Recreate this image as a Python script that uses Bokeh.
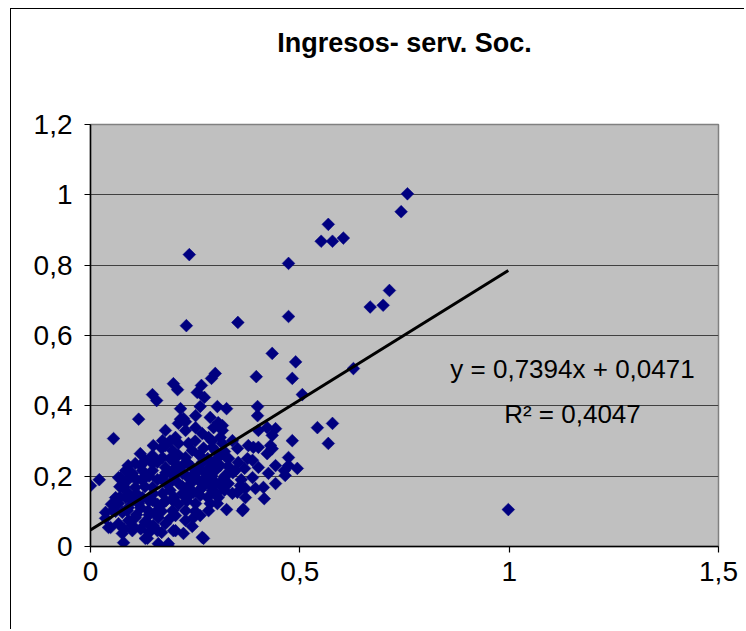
from bokeh.plotting import figure
from bokeh.models import Range1d, FixedTicker, Label, ColumnDataSource, Title
from bokeh.embed import file_html
from bokeh.resources import INLINE
import numpy as np

title_text = "Ingresos- serv. Soc."
eq_text = "y = 0,7394x + 0,0471"
r2_text = "R² = 0,4047"
slope = 0.7394
intercept = 0.0471

x_ticks = [0, 0.5, 1, 1.5]
x_tick_labels = ["0", "0,5", "1", "1,5"]
y_ticks = [0, 0.2, 0.4, 0.6, 0.8, 1.0, 1.2]
y_tick_labels = ["0", "0,2", "0,4", "0,6", "0,8", "1", "1,2"]

pts = [
    (0.757, 1.003), (0.742, 0.952), (0.568, 0.916), (0.551, 0.868), (0.578, 0.868), (0.604, 0.877),
    (0.236, 0.830), (0.473, 0.805), (0.714, 0.728), (0.699, 0.686), (0.668, 0.681), (0.473, 0.654),
    (0.229, 0.628), (0.352, 0.637), (0.434, 0.549), (0.490, 0.525), (0.628, 0.506), (0.482, 0.478),
    (0.506, 0.432), (0.998, 0.105),
    (0.542, 0.338), (0.578, 0.350), (0.568, 0.293),
    (0.396, 0.483), (0.298, 0.492), (0.289, 0.478), (0.265, 0.458), (0.272, 0.424), (0.262, 0.398),
    (0.325, 0.392), (0.399, 0.398), (0.399, 0.372), (0.198, 0.463), (0.208, 0.446), (0.148, 0.432),
    (0.158, 0.415), (0.255, 0.438), (0.215, 0.392), (0.115, 0.362), (0.215, 0.362), (0.227, 0.355),
    (0.422, 0.338), (0.442, 0.335), (0.434, 0.316), (0.482, 0.301), (0.434, 0.278), (0.473, 0.253),
    (0.494, 0.222), (0.442, 0.230), (0.425, 0.208), (0.465, 0.202), (0.463, 0.216), (0.442, 0.179),
    (0.415, 0.136), (0.394, 0.165), (0.387, 0.245), (0.401, 0.282), (0.365, 0.106), (0.325, 0.105),
    (0.267, 0.026), (0.315, 0.344), (0.351, 0.154), (0.370, 0.139), (0.329, 0.179), (0.322, 0.202),
    (0.055, 0.307), (0.0, 0.173), (0.021, 0.19),
    (0.036, 0.097), (0.043, 0.054), (0.067, 0.065), (0.079, 0.011), (0.131, 0.023), (0.160, 0.045),
    (0.162, 0.008), (0.198, 0.045), (0.222, 0.037), (0.243, 0.057), (0.184, 0.003), (0.036, 0.08),
    (0.053, 0.102), (0.048, 0.054), (0.136, 0.023), (0.186, 0.008), (0.203, 0.045), (0.270, 0.023),
    (0.363, 0.102), (0.286, 0.122), (0.262, 0.145), (0.315, 0.168), (0.339, 0.151), (0.370, 0.165),
    (0.320, 0.196), (0.346, 0.216), (0.358, 0.173), (0.387, 0.196), (0.401, 0.225), (0.375, 0.250),
    (0.377, 0.287), (0.322, 0.256), (0.339, 0.301), (0.291, 0.282), (0.315, 0.330), (0.267, 0.321),
    (0.251, 0.338), (0.294, 0.338), (0.227, 0.330), (0.203, 0.310), (0.179, 0.330), (0.172, 0.301),
    (0.150, 0.287), (0.119, 0.264), (0.131, 0.245), (0.148, 0.259), (0.107, 0.236), (0.084, 0.216),
    (0.067, 0.196), (0.072, 0.196), (0.076, 0.168), (0.091, 0.151), (0.060, 0.139), (0.067, 0.122),
    (0.088, 0.102), (0.107, 0.082), (0.091, 0.074), (0.115, 0.122), (0.138, 0.102), (0.162, 0.082),
    (0.179, 0.065), (0.203, 0.088), (0.227, 0.102), (0.251, 0.122), (0.282, 0.179), (0.258, 0.188),
    (0.234, 0.168), (0.220, 0.151), (0.196, 0.131), (0.172, 0.151), (0.148, 0.168), (0.124, 0.188),
    (0.100, 0.208), (0.124, 0.216), (0.148, 0.216), (0.172, 0.196), (0.196, 0.188), (0.220, 0.208),
    (0.243, 0.225), (0.267, 0.239), (0.291, 0.236), (0.227, 0.253), (0.203, 0.236), (0.179, 0.225),
    (0.196, 0.273), (0.243, 0.273), (0.210, 0.293), (0.234, 0.293), (0.172, 0.253), (0.148, 0.236),
    (0.124, 0.139), (0.148, 0.131), (0.172, 0.122), (0.196, 0.102), (0.107, 0.168), (0.084, 0.139),
    (0.076, 0.097), (0.100, 0.045), (0.076, 0.037), (0.138, 0.065), (0.155, 0.097), (0.305, 0.139),
    (0.291, 0.159), (0.267, 0.168), (0.246, 0.154), (0.227, 0.139), (0.246, 0.082), (0.227, 0.074),
    (0.262, 0.088), (0.282, 0.102), (0.303, 0.122), (0.315, 0.188), (0.298, 0.216), (0.274, 0.208),
    (0.251, 0.196), (0.210, 0.225), (0.305, 0.253), (0.315, 0.293), (0.282, 0.310), (0.351, 0.279),
    (0.353, 0.239), (0.368, 0.222), (0.329, 0.228), (0.303, 0.398), (0.286, 0.367), (0.305, 0.352),
    (0.251, 0.372), (0.210, 0.350), (0.222, 0.364), (0.179, 0.287), (0.401, 0.330), (0.389, 0.282),
    (0.422, 0.264), (0.430, 0.287), (0.473, 0.230), (0.413, 0.168),
    (0.13, 0.17), (0.16, 0.19), (0.19, 0.16), (0.21, 0.18), (0.23, 0.20), (0.25, 0.21), (0.27, 0.19),
    (0.29, 0.20), (0.15, 0.15), (0.18, 0.21), (0.20, 0.20), (0.22, 0.17), (0.24, 0.18), (0.26, 0.16),
    (0.28, 0.14), (0.12, 0.11), (0.14, 0.09), (0.17, 0.10), (0.19, 0.08), (0.21, 0.12), (0.23, 0.13),
    (0.25, 0.10), (0.10, 0.13), (0.11, 0.19), (0.09, 0.23), (0.13, 0.20), (0.16, 0.24), (0.19, 0.25),
    (0.21, 0.26), (0.23, 0.24), (0.26, 0.26), (0.28, 0.25), (0.30, 0.27), (0.32, 0.27), (0.31, 0.23),
    (0.33, 0.25), (0.34, 0.21), (0.36, 0.19), (0.12, 0.05), (0.14, 0.04), (0.10, 0.06), (0.15, 0.06),
    (0.17, 0.04), (0.08, 0.17), (0.09, 0.19), (0.11, 0.15), (0.20, 0.14), (0.18, 0.13), (0.16, 0.12),
    (0.14, 0.13), (0.24, 0.15), (0.22, 0.23), (0.26, 0.22), (0.28, 0.22), (0.30, 0.18), (0.32, 0.16),
    (0.30, 0.15), (0.20, 0.22), (0.18, 0.18), (0.14, 0.20), (0.12, 0.23), (0.10, 0.20), (0.17, 0.28),
    (0.19, 0.30), (0.25, 0.30), (0.27, 0.28), (0.29, 0.30), (0.31, 0.31), (0.09, 0.11), (0.11, 0.09),
    (0.13, 0.07), (0.08, 0.05), (0.06, 0.10), (0.05, 0.12), (0.07, 0.14), (0.07, 0.17),
]
x_vals = [p_[0] for p_ in pts]
y_vals = [p_[1] for p_ in pts]

W, H = 734, 621
p = figure(width=W, height=H, output_backend="svg", toolbar_location=None,
           x_range=Range1d(0, 1.5), y_range=Range1d(0, 1.2),
           min_border_left=79, min_border_right=27, min_border_top=115, min_border_bottom=84,
           background_fill_color="#C0C0C0", border_fill_color="white")
p.styles = {"margin-left": "10px", "margin-top": "8px",
            "border-left": "1px solid black", "border-top": "1px solid black"}

# blank spacer title keeps the real title up near the top of the chart
p.add_layout(Title(text=" ", text_font_size="20px", standoff=38), "above")
p.add_layout(Title(text=title_text, align="center", text_font="Liberation Sans",
                   text_font_style="bold", text_font_size="27px", text_color="black",
                   standoff=10), "above")

p.outline_line_color = "#808080"
p.outline_line_width = 1.5

p.xgrid.visible = False
p.ygrid.ticker = FixedTicker(ticks=y_ticks)
p.ygrid.grid_line_color = "#404040"
p.ygrid.grid_line_width = 1.2

for ax, ticks, labels in ((p.xaxis[0], x_ticks, x_tick_labels), (p.yaxis[0], y_ticks, y_tick_labels)):
    ax.ticker = FixedTicker(ticks=ticks)
    ax.major_label_overrides = {t: l for t, l in zip(ticks, labels)}
    ax.minor_tick_line_color = None
    ax.major_tick_in = 0
    ax.major_tick_out = 6
    ax.axis_line_color = "black"
    ax.axis_line_width = 1.5
    ax.major_tick_line_color = "black"
    ax.major_tick_line_width = 1.2
    ax.major_label_text_font = "Liberation Sans"
    ax.major_label_text_font_size = "28px"
    ax.major_label_text_color = "black"
p.yaxis.major_label_standoff = 12
p.xaxis.major_label_standoff = 9

src = ColumnDataSource(dict(x=x_vals, y=y_vals))
p.scatter("x", "y", source=src, marker="square", angle=np.pi / 4, size=9,
          fill_color="#000080", line_color="#000080", line_width=0.5)

xl = np.array([min(x_vals), max(x_vals)])
p.line(xl, slope * xl + intercept, line_color="black", line_width=3)

p.add_layout(Label(x=482, y=178, x_units="screen", y_units="screen", text=eq_text,
                   text_font="Liberation Sans", text_font_size="26px",
                   text_align="center", text_baseline="middle", text_color="black"))
p.add_layout(Label(x=482, y=133, x_units="screen", y_units="screen", text=r2_text,
                   text_font="Liberation Sans", text_font_size="26px",
                   text_align="center", text_baseline="middle", text_color="black"))

open("out.html", "w").write(file_html(p, INLINE))
